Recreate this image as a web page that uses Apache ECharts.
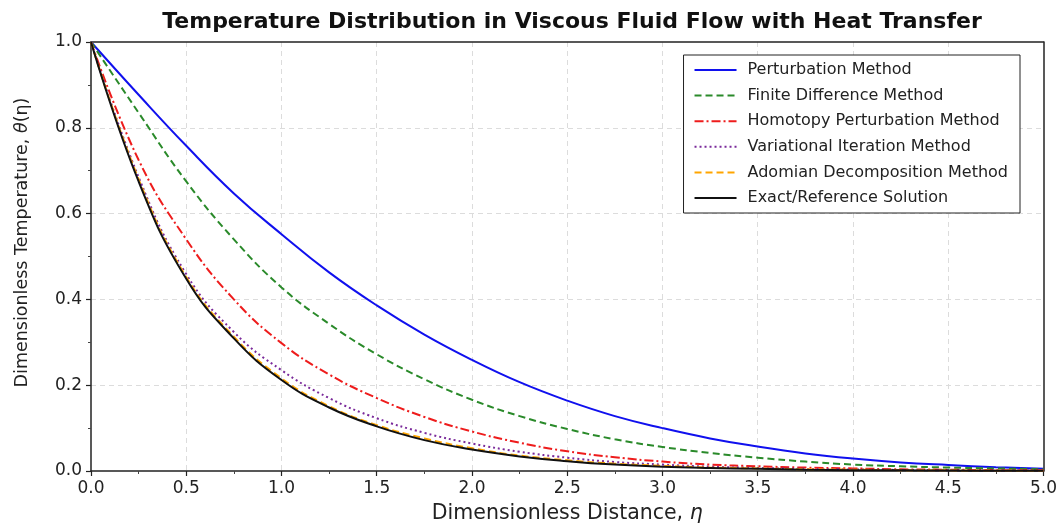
<!DOCTYPE html>
<html>
<head>
<meta charset="utf-8">
<title>Temperature Distribution</title>
<script src="https://cdn.jsdelivr.net/npm/echarts@6/dist/echarts.min.js"></script>
<style>
  html, body { margin: 0; padding: 0; background: #fff; }
  #chart { width: 1060px; height: 529px; }
</style>
</head>
<body>
<div id="chart"></div>
<script>
// eta values (x axis)
const etas = [0, 0.25, 0.5, 0.75, 1.0, 1.25, 1.5, 1.75, 2.0, 2.25, 2.5, 2.75, 3.0, 3.25, 3.5, 3.75, 4.0, 4.25, 4.5, 4.75, 5.0];

// theta values
const perturbation = [1, 0.877, 0.758, 0.647, 0.552, 0.463, 0.386, 0.318, 0.259, 0.207, 0.164, 0.128, 0.1, 0.076, 0.057, 0.041, 0.029, 0.02, 0.014, 0.009, 0.005];
const finiteDiff = [1, 0.835, 0.675, 0.54, 0.428, 0.343, 0.272, 0.214, 0.166, 0.128, 0.098, 0.074, 0.056, 0.042, 0.031, 0.022, 0.015, 0.011, 0.008, 0.006, 0.004];
const homotopy = [1, 0.725, 0.54, 0.4, 0.298, 0.225, 0.17, 0.126, 0.092, 0.066, 0.046, 0.032, 0.022, 0.015, 0.011, 0.008, 0.006, 0.004, 0.003, 0.002, 0.0015];
const variational = [1, 0.685, 0.459, 0.324, 0.235, 0.17, 0.123, 0.089, 0.064, 0.045, 0.031, 0.021, 0.015, 0.01, 0.007, 0.005, 0.0035, 0.0025, 0.0018, 0.0012, 0.0008];
const adomian = [1, 0.68, 0.452, 0.313, 0.216, 0.151, 0.107, 0.076, 0.053, 0.036, 0.025, 0.017, 0.012, 0.008, 0.006, 0.004, 0.003, 0.002, 0.0015, 0.001, 0.0007];
const exact = [1, 0.675, 0.448, 0.309, 0.212, 0.148, 0.104, 0.072, 0.05, 0.034, 0.023, 0.015, 0.01, 0.007, 0.005, 0.003, 0.002, 0.0015, 0.001, 0.0007, 0.0005];

const xTicks = [0, 0.5, 1, 1.5, 2, 2.5, 3, 3.5, 4, 4.5, 5];
const yTicks = [0, 0.2, 0.4, 0.6, 0.8, 1.0];

const FONT = 'DejaVu Sans';
const INK = '#222';

// build one line series
function makeLine(name, values, color, type, width) {
  return {
    name: name,
    type: 'line',
    data: etas.map((x, i) => [x, values[i]]),
    smooth: 0.45,
    symbol: 'none',
    lineStyle: { color: color, width: width, type: type },
    itemStyle: { color: color },
    emphasis: { disabled: true }
  };
}

const chart = echarts.init(document.getElementById('chart'), null, { renderer: 'canvas' });

const axisCommon = {
  axisLine: { show: true, onZero: false, lineStyle: { color: INK, width: 1.5 } },
  axisTick: { show: true, inside: false, length: 5, lineStyle: { color: INK, width: 1.2 } },
  minorTick: { show: true, splitNumber: 2, length: 3, lineStyle: { color: '#444' } },
  splitLine: { show: true, showMinLine: false, showMaxLine: false, lineStyle: { color: '#dcdcdc', type: [5, 4], width: 1 } },
  axisLabel: { color: INK, fontFamily: FONT, fontSize: 17 }
};

// top / right frame lines only
const frameAxis = {
  type: 'value',
  axisLine: { show: true, onZero: false, lineStyle: { color: INK, width: 1.5 } },
  axisTick: { show: false },
  axisLabel: { show: false },
  splitLine: { show: false }
};

const option = {
  backgroundColor: '#fff',
  animation: false,
  title: {
    text: 'Temperature Distribution in Viscous Fluid Flow with Heat Transfer',
    left: 567,
    textAlign: 'center',
    top: 6,
    textStyle: { fontFamily: FONT, fontWeight: 'bold', fontSize: 22, color: '#111' }
  },
  grid: { left: 91, right: 16, top: 42, bottom: 56 },
  legend: {
    orient: 'vertical',
    right: 40,
    top: 55,
    itemWidth: 42,
    itemHeight: 14,
    itemGap: 9.6,
    padding: [7, 12, 7, 10],
    borderColor: INK,
    borderWidth: 1,
    backgroundColor: '#fff',
    itemStyle: { color: 'transparent', borderWidth: 0, opacity: 0 },
    textStyle: { fontFamily: FONT, fontSize: 16, color: INK, padding: [0, 0, 0, 6] },
    data: ['Perturbation Method', 'Finite Difference Method', 'Homotopy Perturbation Method',
      'Variational Iteration Method', 'Adomian Decomposition Method', 'Exact/Reference Solution']
  },
  xAxis: [
    Object.assign({}, axisCommon, {
      type: 'value',
      min: 0,
      max: 5,
      interval: 0.5,
      name: 'Dimensionless Distance, {i|η}',
      nameLocation: 'middle',
      nameGap: 32,
      nameTextStyle: {
        fontFamily: FONT, fontSize: 20.5, color: INK,
        rich: { i: { fontFamily: FONT, fontSize: 20.5, fontStyle: 'italic', color: INK } }
      },
      axisLabel: Object.assign({}, axisCommon.axisLabel, {
        margin: 9,
        formatter: v => xTicks.indexOf(v) >= 0 ? v.toFixed(1) : ''
      })
    }),
    Object.assign({}, frameAxis, { position: 'top', min: 0, max: 5 })
  ],
  yAxis: [
    Object.assign({}, axisCommon, {
      type: 'value',
      min: 0,
      max: 1,
      interval: 0.2,
      name: 'Dimensionless Temperature, {i|θ}(η)',
      nameLocation: 'middle',
      nameGap: 60,
      nameRotate: 90,
      nameTextStyle: {
        fontFamily: FONT, fontSize: 17.5, color: INK,
        padding: [0, 0, 0, 28],
        rich: { i: { fontFamily: FONT, fontSize: 17.5, fontStyle: 'italic', color: INK } }
      },
      axisLabel: Object.assign({}, axisCommon.axisLabel, {
        margin: 9,
        formatter: v => yTicks.indexOf(+v.toFixed(1)) >= 0 ? v.toFixed(1) : ''
      })
    }),
    Object.assign({}, frameAxis, { position: 'right', min: 0, max: 1 })
  ],
  series: [
    makeLine('Perturbation Method', perturbation, '#1010ee', 'solid', 2),
    makeLine('Finite Difference Method', finiteDiff, '#2a8a2a', [7, 4], 2),
    makeLine('Homotopy Perturbation Method', homotopy, '#ee1c1c', [9, 3, 2, 3], 2),
    makeLine('Variational Iteration Method', variational, '#7a2a9a', [2, 3], 2),
    makeLine('Adomian Decomposition Method', adomian, '#ffa500', [7, 4], 2),
    makeLine('Exact/Reference Solution', exact, '#111111', 'solid', 2)
  ]
};

chart.setOption(option);
</script>
</body>
</html>
